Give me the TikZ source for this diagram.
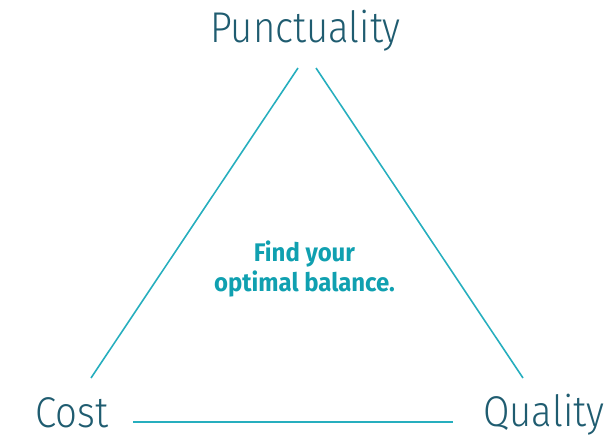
\documentclass[tikz,border=0pt]{standalone}
\usepackage{fontspec}
\setmainfont{Fira Sans}
\newfontfamily\lightfont{Fira Sans Light}
\usetikzlibrary{positioning}
\definecolor{labelcol}{RGB}{31,92,112}
\definecolor{linecol}{RGB}{38,174,190}
\definecolor{notecol}{RGB}{16,160,176}

\tikzset{
  corner/.style={text=labelcol, font=\lightfont\fontsize{24.5}{27}\selectfont, inner sep=0pt, xscale=0.89},
  note/.style={text=notecol, font=\bfseries\fontsize{14.5}{16}\selectfont, align=center, inner sep=0pt, xscale=0.94},
  side/.style={draw=linecol, line width=0.9pt}
}

\begin{document}
\begin{tikzpicture}[x=0.02cm, y=-0.02cm]
    \useasboundingbox (0,0) rectangle (614,435);

    \node[corner, anchor=base] (punct) at (305.5,43) {Punctuality};
    \node[corner, anchor=base west] (cost) at (35,427) {Cost};
    \node[corner, anchor=base west] (qual) at (483,426) {Quality};

    \node[note] (bal) at (304.5,269) {Find your\\[1pt]optimal balance.};

    \coordinate (ltop) at (298,68);
    \coordinate (lbot) at (91,378);
    \coordinate (rtop) at (316,68);
    \coordinate (rbot) at (523,378);
    \coordinate (bl) at (133,422);
    \coordinate (br) at (453,422);

    \draw[side] (ltop) -- (lbot);
    \draw[side] (rtop) -- (rbot);
    \draw[side] (bl) -- (br);
\end{tikzpicture}
\end{document}
